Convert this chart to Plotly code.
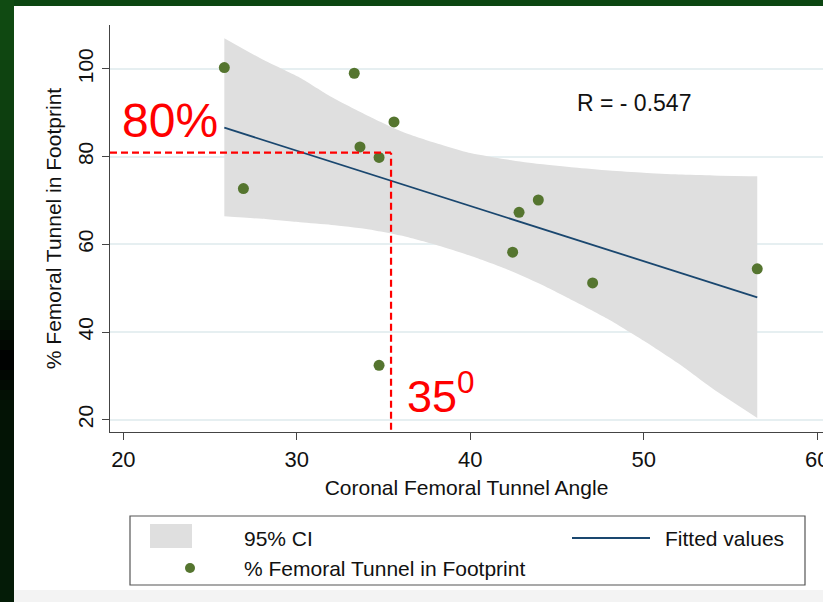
import plotly.graph_objects as go

# ---------------- data ----------------
angle = [25.82, 26.92, 33.31, 33.64, 34.74, 35.60, 34.74, 42.44, 42.81, 43.92, 47.05, 56.54]
pct_footprint = [100.3, 72.7, 99.0, 82.2, 79.8, 87.9, 32.4, 58.2, 67.3, 70.1, 51.2, 54.4]

fit_x = [25.82, 56.54]
fit_y = [86.6, 47.9]

ci_x = [25.82, 28, 30.18, 32, 34, 36, 38, 40, 42, 44, 46, 48, 50, 52, 54, 56.54]
ci_upper = [107.0, 102.2, 98.0, 93.6, 89.5, 85.8, 83.1, 80.8, 79.4, 78.3, 77.5, 76.8, 76.3, 75.9, 75.7, 75.5]
ci_lower = [66.4, 65.8, 65.0, 64.4, 63.5, 62.0, 59.9, 57.4, 54.5, 51.0, 47.0, 42.8, 38.0, 32.8, 27.0, 20.4]

x_ticks = [20, 30, 40, 50, 60]
y_ticks = [20, 40, 60, 80, 100]
x_range = [19.23, 60.33]
y_range = [17.2, 110.0]

ref_x = 35.43   # 35 degrees marker
ref_y = 80.9    # 80 % marker
r_text = "R = - 0.547"

# ---------------- layout geometry ----------------
W, H = 823, 602
L, R, T, B = 110, 0, 25, 170
PW, PH = W - L - R, H - T - B

def px(x):
    return (x - L) / PW

def py(y):
    return (H - B - y) / PH

FONT = "Liberation Sans, Arial, Helvetica, sans-serif"
GREEN = "#55752f"
NAVY = "#1a476f"
BAND = "#dfdfdf"
TXT = "#111111"

fig = go.Figure()

fig.add_trace(go.Scatter(
    x=ci_x, y=ci_lower, mode="lines", line=dict(width=0, color=BAND, shape="spline", smoothing=0.6),
    hoverinfo="skip", showlegend=False))
fig.add_trace(go.Scatter(
    x=ci_x, y=ci_upper, mode="lines", line=dict(width=0, color=BAND, shape="spline", smoothing=0.6),
    fill="tonexty", fillcolor=BAND, hoverinfo="skip", showlegend=False))

fig.add_trace(go.Scatter(
    x=fit_x, y=fit_y, mode="lines", line=dict(color=NAVY, width=1.8),
    showlegend=False))

fig.add_trace(go.Scatter(
    x=angle, y=pct_footprint, mode="markers",
    marker=dict(color=GREEN, size=11, line=dict(width=0)),
    showlegend=False))

shapes = []
# red dashed reference lines (data coordinates)
shapes.append(dict(type="line", xref="x", yref="y", x0=x_range[0], x1=ref_x, y0=ref_y, y1=ref_y,
                   line=dict(color="#ff0000", width=2.2, dash="7px,4px"), layer="above"))
shapes.append(dict(type="line", xref="x", yref="y", x0=ref_x, x1=ref_x, y0=y_range[0] + 0.5, y1=ref_y,
                   line=dict(color="#ff0000", width=2.2, dash="7px,4px"), layer="above"))

# frame decoration: green top band and left gradient band
shapes.append(dict(type="rect", xref="paper", yref="paper", x0=px(0), x1=px(W), y0=py(0), y1=py(6),
                   fillcolor="#0c4611", line=dict(width=0), layer="above"))
stops = [(0, (16, 76, 18)), (120, (13, 62, 15)), (240, (8, 42, 10)), (330, (3, 15, 4)),
         (360, (0, 0, 0)), (400, (3, 18, 5)), (602, (4, 28, 7))]

def col_at(y):
    for (y0, c0), (y1, c1) in zip(stops[:-1], stops[1:]):
        if y0 <= y <= y1:
            t = (y - y0) / (y1 - y0)
            return "rgb(%d,%d,%d)" % tuple(round(a + (b - a) * t) for a, b in zip(c0, c1))
    return "rgb(4,28,7)"

step = 10
for y in range(0, H, step):
    shapes.append(dict(type="rect", xref="paper", yref="paper", x0=px(0), x1=px(14),
                       y0=py(y), y1=py(min(y + step + 1, H)),
                       fillcolor=col_at(y + step / 2), line=dict(width=0), layer="above"))
# light grey strip at the bottom
shapes.append(dict(type="rect", xref="paper", yref="paper", x0=px(14), x1=px(W), y0=py(590), y1=py(H),
                   fillcolor="#f3f3f3", line=dict(width=0), layer="below"))

# legend box (drawn manually)
shapes.append(dict(type="rect", xref="paper", yref="paper", x0=px(130), x1=px(805), y0=py(516), y1=py(585),
                   fillcolor="white", line=dict(color="#555555", width=1.2), layer="above"))
shapes.append(dict(type="rect", xref="paper", yref="paper", x0=px(150), x1=px(192), y0=py(524), y1=py(548),
                   fillcolor=BAND, line=dict(width=0), layer="above"))
shapes.append(dict(type="line", xref="paper", yref="paper", x0=px(572), x1=px(650), y0=py(538), y1=py(538),
                   line=dict(color=NAVY, width=1.8), layer="above"))
shapes.append(dict(type="circle", xref="paper", yref="paper", xsizemode="pixel", ysizemode="pixel",
                   xanchor=px(190), yanchor=py(568), x0=-5, x1=5, y0=-5, y1=5,
                   fillcolor=GREEN, line=dict(width=0), layer="above"))

ann = []
ann.append(dict(xref="paper", yref="paper", x=px(242), y=py(538), text="95% CI", showarrow=False,
                xanchor="left", yanchor="middle", font=dict(family=FONT, size=21, color=TXT)))
ann.append(dict(xref="paper", yref="paper", x=px(663), y=py(538), text="Fitted values", showarrow=False,
                xanchor="left", yanchor="middle", font=dict(family=FONT, size=21, color=TXT)))
ann.append(dict(xref="paper", yref="paper", x=px(242), y=py(568), text="% Femoral Tunnel in Footprint",
                showarrow=False, xanchor="left", yanchor="middle",
                font=dict(family=FONT, size=21, color=TXT)))
ann.append(dict(xref="paper", yref="paper", x=px(634), y=py(103), text=r_text, showarrow=False,
                xanchor="center", yanchor="middle", font=dict(family=FONT, size=23, color=TXT)))
ann.append(dict(xref="paper", yref="paper", x=px(170), y=py(121), text="80%", showarrow=False,
                xanchor="center", yanchor="middle", font=dict(family=FONT, size=48, color="#ff0000")))
ann.append(dict(xref="paper", yref="paper", x=px(405), y=py(393), text="35<sup>0</sup>", showarrow=False,
                xanchor="left", yanchor="middle", font=dict(family=FONT, size=45, color="#ff0000")))

fig.update_layout(
    width=W, height=H, margin=dict(l=L, r=R, t=T, b=B, pad=0, autoexpand=False),
    paper_bgcolor="white", plot_bgcolor="white",
    font=dict(family=FONT, size=21, color=TXT),
    shapes=shapes, annotations=ann, showlegend=False,
    xaxis=dict(range=x_range, tickvals=x_ticks, ticktext=[str(v) for v in x_ticks],
               automargin=False,
               showgrid=False, zeroline=False, showline=True, linecolor="#444", linewidth=1.3,
               ticks="outside", ticklen=7, tickcolor="#444", tickwidth=1.2,
               tickfont=dict(family=FONT, size=22, color=TXT), ticklabeloverflow="allow",
               title=dict(text="Coronal Femoral Tunnel Angle", standoff=9,
                          font=dict(family=FONT, size=21, color=TXT))),
    yaxis=dict(range=y_range, tickvals=y_ticks, ticktext=[str(v) for v in y_ticks],
               automargin=False,
               showgrid=True, gridcolor="#e6eff1", gridwidth=1.5, zeroline=False,
               showline=True, linecolor="#444", linewidth=1.3,
               ticks="outside", ticklen=7, tickcolor="#444", tickwidth=1.2, tickangle=-90,
               tickfont=dict(family=FONT, size=21, color=TXT),
               title=dict(text="% Femoral Tunnel in Footprint", standoff=7,
                          font=dict(family=FONT, size=21, color=TXT))),
)

fig.write_html(
    "out.html",
    config={"displayModeBar": False},
    post_script="document.body.style.margin='0';document.body.style.padding='0';"
                "document.documentElement.style.overflow='hidden';",
)
